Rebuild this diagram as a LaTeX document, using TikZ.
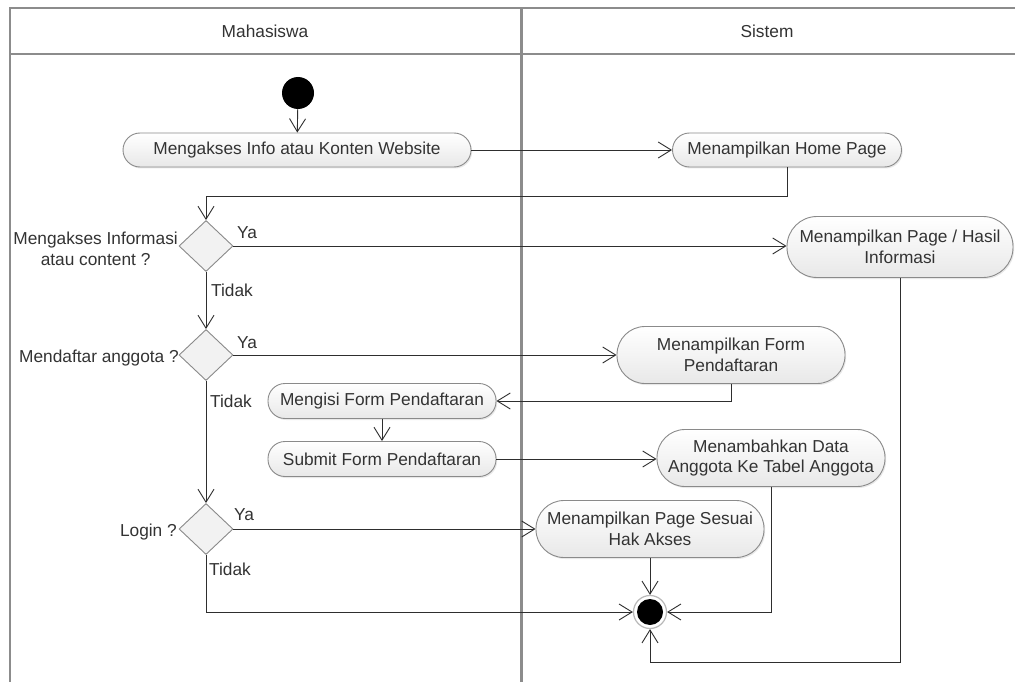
\documentclass[tikz,border=0pt]{standalone}
\usepackage{fontspec}
\setmainfont{Liberation Sans}
\usetikzlibrary{shapes.geometric,arrows.meta,shadows}
\definecolor{txt}{HTML}{333333}
\definecolor{ln}{HTML}{2E2E2E}
\definecolor{frm}{HTML}{8C8C8C}
\definecolor{bord}{HTML}{8A8A8A}
\tikzset{
  base/.style={font=\fontsize{17.3}{20.5}\selectfont, text=txt},
  act/.style={base, rectangle, align=center, draw=bord, line width=0.9pt,
    top color=white, bottom color=gray!18, inner sep=0pt,
    drop shadow={opacity=0.18, shadow xshift=1.2pt, shadow yshift=-1.5pt}},
  actS/.style={act, rounded corners=17pt, minimum height=34pt},
  actT/.style={act, rounded corners=28pt, minimum height=57pt},
  dec/.style={diamond, draw=bord, line width=0.9pt, fill=gray!10, inner sep=0pt,
    minimum width=54pt, minimum height=51pt},
  lbl/.style={base, inner sep=0pt},
  flow/.style={draw=ln, line width=0.9pt, -{Straight Barb[length=13pt,width=16pt,line width=0.9pt]}},
  plain/.style={draw=ln, line width=0.9pt}
}
\begin{document}
\begin{tikzpicture}[x=1pt,y=-1pt]
\useasboundingbox (0,0) rectangle (1015,682);
\fill[white] (0,0) rectangle (1015,682);
\begin{scope}
\clip (0,0) rectangle (1015,682);
% swimlane frame
\draw[frm, line width=1.5pt] (10,700) -- (10,8) -- (1030,8);
\draw[frm, line width=1.5pt] (10,54) -- (1030,54);
\draw[frm, line width=3pt] (521,8) -- (521,700);
\end{scope}
\node[lbl] (hm) at (265,31) {Mahasiswa};
\node[lbl] (hs) at (767,31) {Sistem};

% nodes
\node[circle, fill=black, minimum size=32pt, inner sep=0pt] (start) at (298,93) {};
\node[actS, minimum width=348pt] (a1) at (297,150) {Mengakses Info atau Konten Website};
\node[actS, minimum width=229pt] (home) at (787,150) {Menampilkan Home Page};
\node[dec] (d1) at (206,246) {};
\node[act, rounded corners=30pt, minimum height=61pt, minimum width=226pt] (hasil) at (900,247) {Menampilkan Page / Hasil\\Informasi};
\node[dec] (d2) at (206,355) {};
\node[actT, minimum width=228pt] (form) at (731,355) {Menampilkan Form\\Pendaftaran};
\node[actS, minimum width=228pt, minimum height=35pt] (isi) at (382,401) {Mengisi Form Pendaftaran};
\node[actS, minimum width=228pt, minimum height=35pt] (sub) at (382,459) {Submit Form Pendaftaran};
\node[actT, minimum width=228pt] (tambah) at (771,458) {Menambahkan Data\\Anggota Ke Tabel Anggota};
\node[dec] (d3) at (206,529) {};
\node[actT, minimum width=228pt] (sesuai) at (650,529) {Menampilkan Page Sesuai\\Hak Akses};
\node[circle, draw=gray!55, line width=1.2pt, fill=white, minimum size=33pt, inner sep=0pt,
  path picture={\fill[black] (path picture bounding box.center) circle (13pt);}] (fin) at (650,612) {};

% decision labels
\node[lbl, align=center, anchor=east] (q1) at (178,249) {Mengakses Informasi\\atau content ?};
\node[lbl, anchor=east] (q2) at (179,358) {Mendaftar anggota ?};
\node[lbl, anchor=east] (q3) at (177,532) {Login ?};
\node[lbl, anchor=west] (y1) at (237,233) {Ya};
\node[lbl, anchor=west] (t1) at (211,290) {Tidak};
\node[lbl, anchor=west] (y2) at (237,343) {Ya};
\node[lbl, anchor=west] (t2) at (210,401) {Tidak};
\node[lbl, anchor=west] (y3) at (234,515) {Ya};
\node[lbl, anchor=west] (t3) at (209,569) {Tidak};

% connectors
\draw[flow] (start) -- (a1);
\draw[flow] (a1.east) -- (home.west);
\draw[flow] (home.south) -- (home.south |- 0,196) -| (d1.north);
\draw[flow] (d1.east) -- (d1.east -| hasil.west);
\draw[flow] (d1.south) -- (d2.north);
\draw[flow] (d2.east) -- (d2.east -| form.west);
\draw[flow] (form.south) |- (isi.east);
\draw[flow] (isi.south) -- (sub.north);
\draw[flow] (sub.east) -- (sub.east -| tambah.west);
\draw[flow] (d2.south) -- (d3.north);
\draw[flow] (d3.east) -- (d3.east -| sesuai.west);
\draw[flow] (d3.south) |- (fin.west);
\draw[flow] (sesuai.south) -- (fin.north);
\draw[flow] (tambah.south) |- (fin.east);
\draw[flow] (hasil.south) -- (hasil.south |- 0,662) -| (fin.south);
\end{tikzpicture}
\end{document}
